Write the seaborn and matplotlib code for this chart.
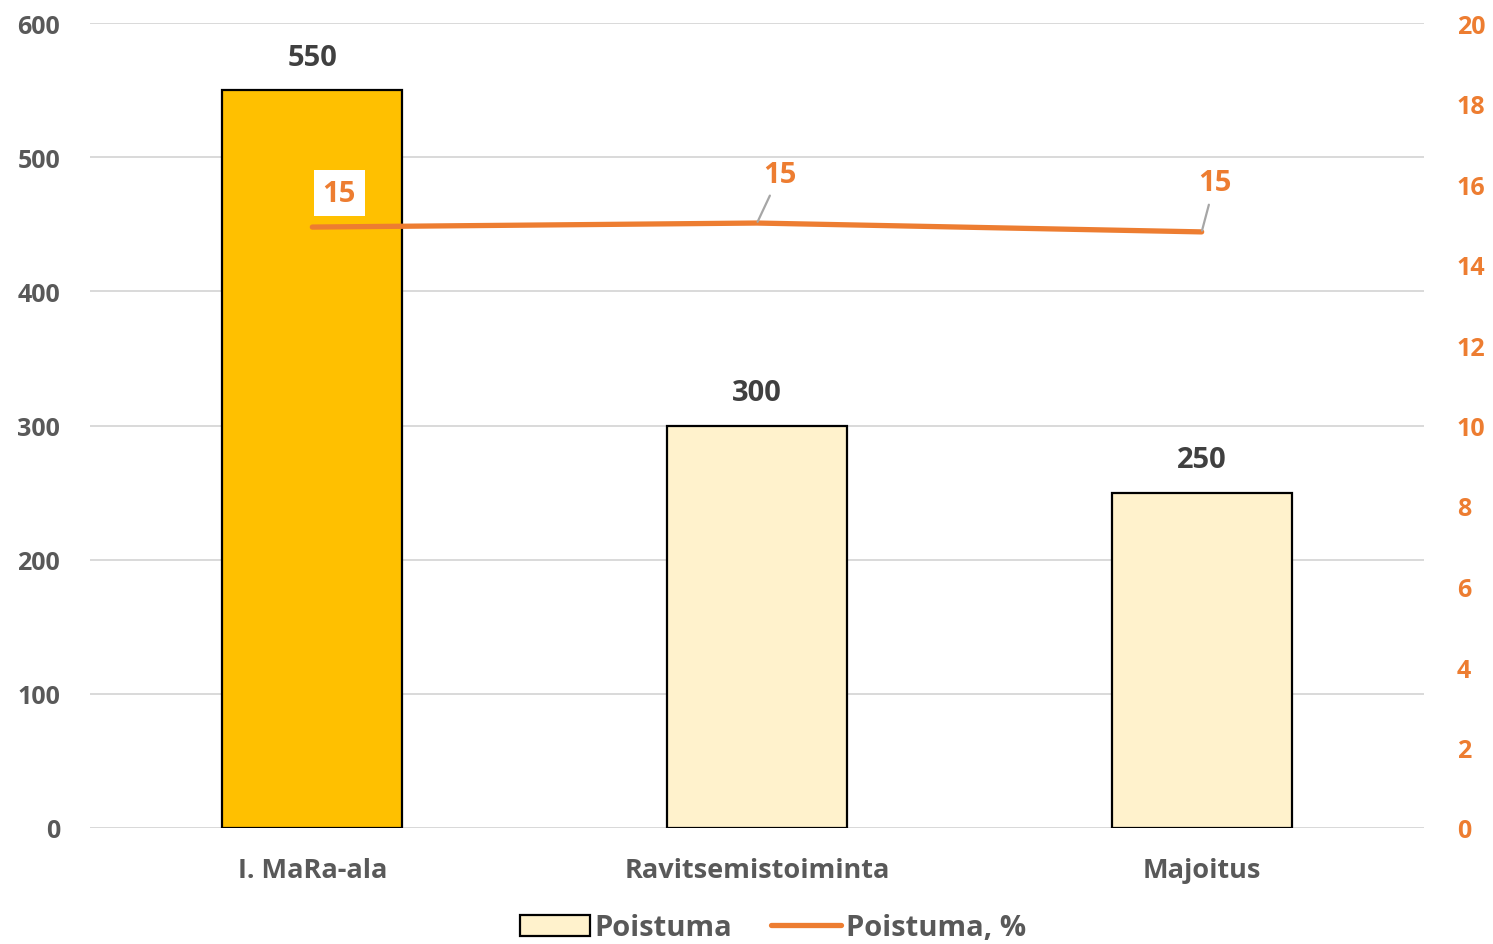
import matplotlib
matplotlib.use("Agg")
import matplotlib.pyplot as plt
import seaborn as sns
import pandas as pd
from matplotlib.patches import Patch
from matplotlib.lines import Line2D

# --- data ---
categories = ["I. MaRa-ala", "Ravitsemistoiminta", "Majoitus"]
poistuma = [550, 300, 250]
poistuma_pct = [14.93, 15.03, 14.81]
left_ticks = [0, 100, 200, 300, 400, 500, 600]
right_ticks = [0, 2, 4, 6, 8, 10, 12, 14, 16, 18, 20]

BAR_MAIN = "#FFC000"
BAR_LIGHT = "#FFF2CC"
ORANGE = "#ED7D31"
GREY_TXT = "#595959"
GRID = "#D9D9D9"

sns.set_style("white")
plt.rcParams["font.family"] = ["Open Sans", "DejaVu Sans"]
plt.rcParams["font.weight"] = "bold"

df = pd.DataFrame({"cat": categories, "val": poistuma, "pct": poistuma_pct})

fig = plt.figure(figsize=(14.93, 9.45), dpi=100)
ax = fig.add_axes([90 / 1493, 1 - 829 / 945, (1424 - 90) / 1493, (829 - 24) / 945])

sns.barplot(data=df, x="cat", y="val", hue="cat", palette=[BAR_MAIN, BAR_LIGHT, BAR_LIGHT],
            saturation=1, width=0.405, edgecolor="black", linewidth=1.6, legend=False,
            ax=ax, zorder=2)

ax.set_ylim(0, 600)
ax.set_xlim(-0.5, 2.5)
ax.set_yticks(left_ticks)
ax.yaxis.grid(True, color=GRID, linewidth=1.4, zorder=0)
ax.set_axisbelow(True)
for s in ax.spines.values():
    s.set_visible(False)
ax.axhline(0, color=GRID, linewidth=1.4, zorder=1)
ax.set_xlabel("")
ax.set_ylabel("")
ax.tick_params(axis="x", length=0, labelsize=19.5, labelcolor=GREY_TXT, pad=21)
ax.tick_params(axis="y", length=0, labelsize=18, labelcolor=GREY_TXT, pad=21.5)
for lbl in ax.get_xticklabels() + ax.get_yticklabels():
    lbl.set_fontweight("bold")

for i, v in enumerate(poistuma):
    ax.annotate(f"{v}", (i, v), xytext=(0, 33), textcoords="offset pixels",
                ha="center", va="center", fontsize=21, fontweight="bold", color="#404040")

ax2 = ax.twinx()
sns.lineplot(data=df, x="cat", y="pct", color=ORANGE, linewidth=3.8, ax=ax2,
             solid_capstyle="round", zorder=3)
ax2.set_ylim(0, 20)
ax2.set_yticks(right_ticks)
for s in ax2.spines.values():
    s.set_visible(False)
ax2.set_ylabel("")
ax2.tick_params(axis="y", length=0, labelsize=18, labelcolor=ORANGE, pad=23.5)
for lbl in ax2.get_yticklabels():
    lbl.set_fontweight("bold")

# line labels
ax2.annotate(f"{poistuma_pct[0]:.0f}", (0, poistuma_pct[0]), xytext=(27, 34),
             textcoords="offset pixels", ha="center", va="center", fontsize=21,
             fontweight="bold", color=ORANGE,
             bbox=dict(boxstyle="square,pad=0.3", fc="white", ec="none"))
offsets = [(23, 49), (13, 49)]
for i, (dx, dy) in zip([1, 2], offsets):
    ax2.annotate(f"{poistuma_pct[i]:.0f}", (i, poistuma_pct[i]), xytext=(dx, dy),
                 textcoords="offset pixels", ha="center", va="center", fontsize=21,
                 fontweight="bold", color=ORANGE,
                 arrowprops=dict(arrowstyle="-", color="#A6A6A6", lw=1.6,
                                 shrinkA=3, shrinkB=1))

handles = [Patch(facecolor=BAR_LIGHT, edgecolor="black", linewidth=1.6),
           Line2D([0], [0], color=ORANGE, linewidth=3.8, solid_capstyle="round")]
leg = fig.legend(handles, ["Poistuma", "Poistuma, %"], loc="center",
                 bbox_to_anchor=(0.5177, 1 - 929 / 945), ncol=2, frameon=False,
                 fontsize=21, handlelength=2.4, handletextpad=0.15,
                 columnspacing=1.35, borderaxespad=0)
for t in leg.get_texts():
    t.set_color(GREY_TXT)
    t.set_fontweight("bold")

fig.savefig("out.png", dpi=100)
